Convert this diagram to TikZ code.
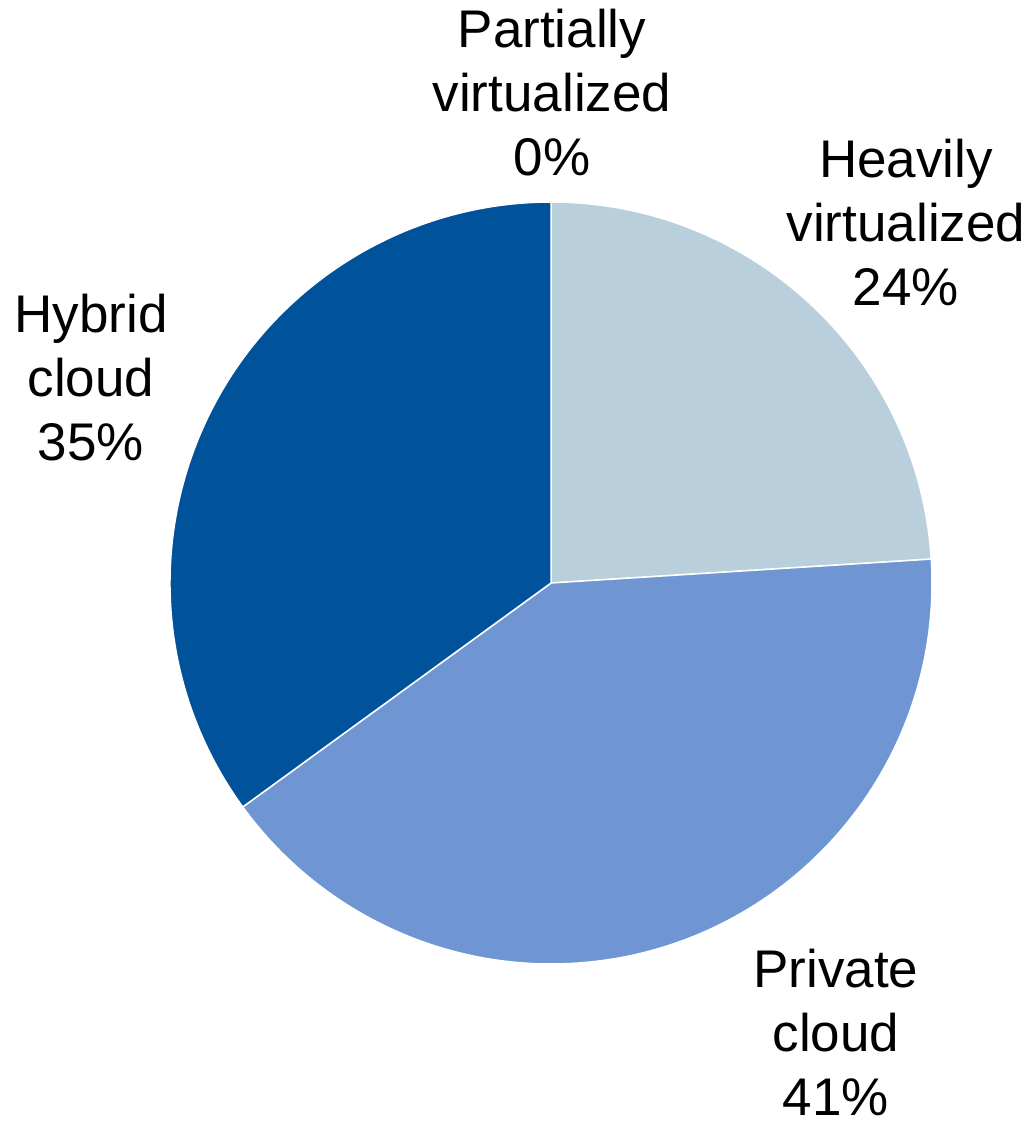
\documentclass[tikz,border=0pt]{standalone}
\usepackage{fontspec}
\setmainfont{Liberation Sans}
\definecolor{heavyc}{HTML}{B9CFDC}
\definecolor{privatec}{HTML}{6F96D3}
\definecolor{hybridc}{HTML}{00529B}
\begin{document}
\begin{tikzpicture}[x=1pt,y=1pt,
  slice/.style={draw=white,line width=1.5pt,line join=round},
  lbl/.style={anchor=base,align=center,inner sep=0pt,
    font=\fontsize{53}{64}\selectfont}]
\useasboundingbox (0,0) rectangle (1028,-1122);
\coordinate (c) at (551,-583);
\def\R{381}
% pie slices, clockwise from the top
\fill[heavyc,slice] (c) -- ++(90:\R) arc[start angle=90,end angle=3.6,radius=\R] -- cycle;
\fill[privatec,slice] (c) -- ++(3.6:\R) arc[start angle=3.6,end angle=-144,radius=\R] -- cycle;
\fill[hybridc,slice] (c) -- ++(-144:\R) arc[start angle=-144,end angle=-270,radius=\R] -- cycle;
% labels (base anchor sits on the last line)
\node[lbl] (lblPartial) at (552,-175) {Partially\\virtualized\\0\%};
\node[lbl] (lblHeavy) at (906,-305) {Heavily\\virtualized\\24\%};
\node[lbl] (lblHybrid) at (91,-460) {Hybrid\\cloud\\35\%};
\node[lbl] (lblPrivate) at (836,-1115) {Private\\cloud\\41\%};
\end{tikzpicture}
\end{document}
